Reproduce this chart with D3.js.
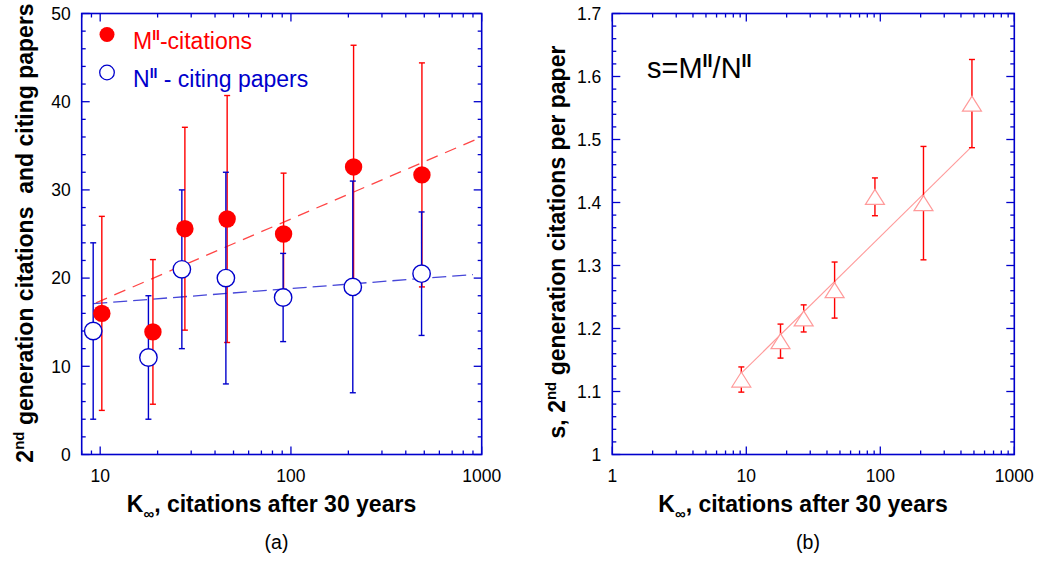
<!DOCTYPE html>
<html>
<head>
<meta charset="utf-8">
<script src="https://cdn.jsdelivr.net/npm/d3@7"></script>
<style>
  body { margin: 0; background: #fff; }
  text { font-family: Arial, "Liberation Sans", Helvetica, sans-serif; }
</style>
</head>
<body>
<div id="vis"></div>
<script>
// ---- data ----
// panel (a): M^II citations (filled red) and N^II citing papers (open blue)
var kM   = [10.2, 18.9, 27.8, 46.3, 91.5, 213, 486];
var mVal = [16.0, 13.9, 25.6, 26.7, 25.0, 32.6, 31.7];
var mErr = [11.0, 8.2, 11.5, 14.0, 6.9, 13.8, 12.7];

var kN   = [9.19, 17.9, 26.8, 45.6, 91.0, 211, 484];
var nVal = [14.0, 11.0, 21.0, 20.0, 17.8, 19.0, 20.5];
var nErr = [10.0, 7.0, 9.0, 12.0, 5.0, 12.0, 7.0];

// dashed fit lines in (a)
var fitMK = [9.5, 1000], fitMV = [17.2, 36.0];
var fitNK = [9.2, 900],  fitNV = [17.1, 20.4];

// panel (b): s = M/N
var kS   = [9.18, 18.0, 26.8, 45.6, 91.2, 210, 483];
var sVal = [1.119, 1.180, 1.216, 1.261, 1.409, 1.399, 1.557];
var sErr = [0.020, 0.027, 0.0215, 0.0445, 0.030, 0.090, 0.070];
var fitSK = [9.18, 483], fitSV = [1.129, 1.489];

var xDomA = [8, 1000], yDomA = [0, 50];
var xDomB = [1, 1000], yDomB = [1, 1.7];

var RED = "#ff0000", BLUE = "#0000cc", PINK = "#ff9a9a";

var svg = d3.select("#vis").append("svg")
    .attr("width", 1038)
    .attr("height", 561);
svg.append("rect").attr("width", 1038).attr("height", 561).attr("fill", "#fff");

var xA = d3.scaleLog().domain(xDomA).range([81.7, 481.7]);
var yA = d3.scaleLinear().domain(yDomA).range([454.5, 13.5]);
var xB = d3.scaleLog().domain(xDomB).range([612.3, 1014.3]);
var yB = d3.scaleLinear().domain(yDomB).range([454.5, 13.5]);

function isDecade(t) {
    var l = Math.log10(t);
    return Math.abs(l - Math.round(l)) < 1e-9;
}

// frame, inward ticks on all four sides, tick labels
function frame(x, y, yMajorCount, yMinorCount) {
    var g = svg.append("g");
    var x0 = x.range()[0], x1 = x.range()[1];
    var y0 = y.range()[0], y1 = y.range()[1];

    var ticksG = g.append("g").attr("stroke", BLUE).attr("stroke-width", 1.3);
    x.ticks().forEach(function (t) {
        var len = isDecade(t) ? 8 : 4;
        var px = x(t);
        ticksG.append("line").attr("x1", px).attr("x2", px).attr("y1", y0).attr("y2", y0 - len);
        ticksG.append("line").attr("x1", px).attr("x2", px).attr("y1", y1).attr("y2", y1 + len);
    });
    var majors = y.ticks(yMajorCount);
    y.ticks(yMinorCount).forEach(function (t) {
        var isMaj = majors.some(function (m) { return Math.abs(m - t) < 1e-9; });
        var len = isMaj ? 8 : 4;
        var py = y(t);
        ticksG.append("line").attr("x1", x0).attr("x2", x0 + len).attr("y1", py).attr("y2", py);
        ticksG.append("line").attr("x1", x1).attr("x2", x1 - len).attr("y1", py).attr("y2", py);
    });

    g.append("rect")
        .attr("x", x0).attr("y", y1)
        .attr("width", x1 - x0).attr("height", y0 - y1)
        .attr("fill", "none").attr("stroke", BLUE).attr("stroke-width", 1.6);

    g.append("g").selectAll("text")
        .data(x.ticks().filter(isDecade))
        .join("text")
        .attr("x", d => x(d))
        .attr("y", y0 + 27)
        .attr("text-anchor", "middle")
        .attr("font-size", 17.5)
        .text(d => d);

    g.append("g").selectAll("text")
        .data(majors)
        .join("text")
        .attr("x", x0 - 11)
        .attr("y", d => y(d))
        .attr("dy", "0.36em")
        .attr("text-anchor", "end")
        .attr("font-size", 17.5)
        .text(d => d);
    return g;
}

frame(xA, yA, 5, 25);
frame(xB, yB, 7, 35);

// ---- panel (a) marks ----
var line = function (x, y) {
    return d3.line().x(d => x(d[0])).y(d => y(d[1]));
};
var gA = svg.append("g");

gA.append("path")
    .datum(d3.zip(fitMK, fitMV))
    .attr("d", line(xA, yA))
    .attr("fill", "none").attr("stroke", "#ff4545").attr("stroke-width", 1.3)
    .attr("stroke-dasharray", "12,8");
gA.append("path")
    .datum(d3.zip(fitNK, fitNV))
    .attr("d", line(xA, yA))
    .attr("fill", "none").attr("stroke", "#4646d8").attr("stroke-width", 1.3)
    .attr("stroke-dasharray", "14,6");

function errBars(g, x, y, ks, vals, errs, color) {
    var d = d3.zip(ks, vals, errs);
    var eb = g.append("g").attr("stroke", color).attr("stroke-width", 1.4);
    eb.selectAll("line.v").data(d).join("line")
        .attr("x1", e => x(e[0])).attr("x2", e => x(e[0]))
        .attr("y1", e => y(e[1] - e[2])).attr("y2", e => y(e[1] + e[2]));
    eb.selectAll("line.t").data(d).join("line")
        .attr("x1", e => x(e[0]) - 3).attr("x2", e => x(e[0]) + 3)
        .attr("y1", e => y(e[1] + e[2])).attr("y2", e => y(e[1] + e[2]));
    eb.selectAll("line.b").data(d).join("line")
        .attr("x1", e => x(e[0]) - 3).attr("x2", e => x(e[0]) + 3)
        .attr("y1", e => y(e[1] - e[2])).attr("y2", e => y(e[1] - e[2]));
}

errBars(gA, xA, yA, kM, mVal, mErr, RED);
errBars(gA, xA, yA, kN, nVal, nErr, BLUE);

gA.append("g").selectAll("circle")
    .data(d3.zip(kM, mVal))
    .join("circle")
    .attr("cx", d => xA(d[0])).attr("cy", d => yA(d[1]))
    .attr("r", 8.7).attr("fill", RED);

gA.append("g").selectAll("circle")
    .data(d3.zip(kN, nVal))
    .join("circle")
    .attr("cx", d => xA(d[0])).attr("cy", d => yA(d[1]))
    .attr("r", 8.7).attr("fill", "#fff").attr("stroke", BLUE).attr("stroke-width", 1.4);

// legend
gA.append("circle").attr("cx", 107).attr("cy", 34.5).attr("r", 7.5).attr("fill", RED);
gA.append("circle").attr("cx", 107).attr("cy", 72.5).attr("r", 7.3)
    .attr("fill", "#fff").attr("stroke", BLUE).attr("stroke-width", 1.3);

var l1 = gA.append("text").attr("x", 133).attr("y", 49).attr("font-size", 23).attr("fill", RED);
l1.append("tspan").text("M");
l1.append("tspan").attr("dy", -9).attr("font-size", 14).attr("font-weight", "bold").text("II");
l1.append("tspan").attr("dy", 9).text("-citations");

var l2 = gA.append("text").attr("x", 133).attr("y", 87).attr("font-size", 23).attr("fill", BLUE);
l2.append("tspan").text("N");
l2.append("tspan").attr("dy", -9).attr("font-size", 14).attr("font-weight", "bold").text("II");
l2.append("tspan").attr("dy", 9).text(" - citing papers");

// ---- panel (b) marks ----
var gB = svg.append("g");
gB.append("path")
    .datum(d3.zip(fitSK, fitSV))
    .attr("d", line(xB, yB))
    .attr("fill", "none").attr("stroke", PINK).attr("stroke-width", 1.1);

errBars(gB, xB, yB, kS, sVal, sErr, RED);

gB.append("g").selectAll("path")
    .data(d3.zip(kS, sVal))
    .join("path")
    .attr("transform", d => `translate(${xB(d[0])},${yB(d[1])})`)
    .attr("d", "M0,-7.5L9.5,7.5L-9.5,7.5Z")
    .attr("fill", "#fff").attr("stroke", PINK).attr("stroke-width", 1.2);

var sl = gB.append("text").attr("x", 647).attr("y", 78).attr("font-size", 29).attr("fill", "#000");
sl.append("tspan").text("s=M");
sl.append("tspan").attr("dy", -11).attr("font-size", 18).attr("font-weight", "bold").text("II");
sl.append("tspan").attr("dy", 11).text("/N");
sl.append("tspan").attr("dy", -11).attr("font-size", 18).attr("font-weight", "bold").text("II");

// ---- axis titles ----
function xTitle(cx, sub) {
    var t = svg.append("text")
        .attr("x", cx).attr("y", 511.5)
        .attr("text-anchor", "middle")
        .attr("font-size", 23).attr("font-weight", "bold");
    t.append("tspan").text("K");
    t.append("tspan").attr("dy", 7).attr("font-size", 15).text("\u221E");
    t.append("tspan").attr("dy", -7).text(", citations after 30 years");
    svg.append("text")
        .attr("x", cx + 5).attr("y", 549)
        .attr("text-anchor", "middle")
        .attr("font-size", 19.5)
        .text(sub);
}
xTitle(271.5, "(a)");
xTitle(803, "(b)");

var yt1 = svg.append("text")
    .attr("transform", "translate(33,233) rotate(-90)")
    .attr("text-anchor", "middle")
    .attr("font-size", 23).attr("font-weight", "bold")
    .style("white-space", "pre");
yt1.append("tspan").text("2");
yt1.append("tspan").attr("dy", -9).attr("font-size", 15).text("nd");
yt1.append("tspan").attr("dy", 9).text(" generation citations  and citing papers");

var yt2 = svg.append("text")
    .attr("transform", "translate(565,242) rotate(-90)")
    .attr("text-anchor", "middle")
    .attr("font-size", 23).attr("font-weight", "bold");
yt2.append("tspan").text("s, 2");
yt2.append("tspan").attr("dy", -9).attr("font-size", 15).text("nd");
yt2.append("tspan").attr("dy", 9).text(" generation citations per paper");
</script>
</body>
</html>
